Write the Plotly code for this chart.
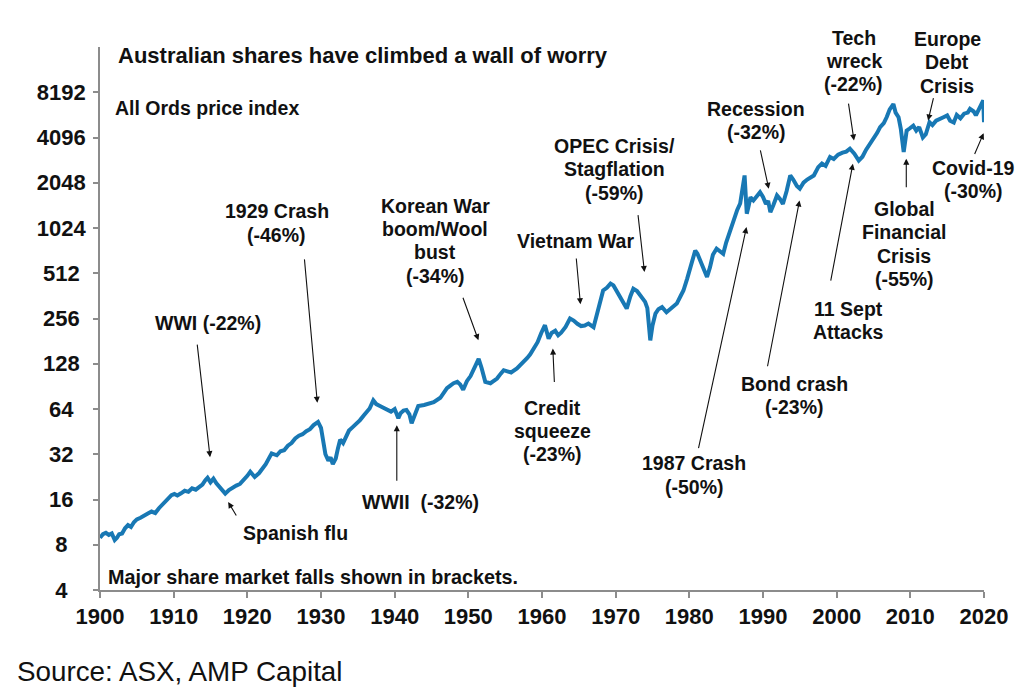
import math
import plotly.graph_objects as go

# ---------------- data ----------------
years = [
    1900.0, 1900.4, 1900.8, 1901.2, 1901.6, 1902.0, 1902.3, 1902.6, 1903.0, 1903.4,
    1903.8, 1904.2, 1904.6, 1905.0, 1905.5, 1906.0, 1906.5, 1907.0, 1907.5, 1908.0,
    1908.5, 1909.0, 1909.4, 1909.7, 1910.1, 1910.5, 1911.0, 1911.5, 1912.0, 1912.5,
    1913.0, 1913.5, 1913.9, 1914.3, 1914.6, 1915.0, 1915.4, 1915.8, 1916.3, 1916.7,
    1917.0, 1917.5, 1918.0, 1918.5, 1919.0, 1919.5, 1920.0, 1920.4, 1921.0, 1921.6,
    1922.0, 1922.5, 1923.0, 1923.3, 1924.0, 1924.5, 1925.0, 1925.5, 1926.0, 1926.5,
    1927.0, 1927.5, 1928.0, 1928.5, 1929.0, 1929.6, 1930.0, 1930.3, 1930.6, 1931.0,
    1931.3, 1931.6, 1932.0, 1932.3, 1932.6, 1933.0, 1933.4, 1933.8, 1934.3, 1934.8,
    1935.3, 1935.8, 1936.2, 1936.6, 1937.1, 1937.5, 1938.0, 1938.5, 1939.0, 1939.5,
    1940.0, 1940.3, 1940.5, 1940.8, 1941.2, 1941.6, 1942.0, 1942.3, 1942.8, 1943.2,
    1944.0, 1944.7, 1945.3, 1946.2, 1946.7, 1947.1, 1947.6, 1948.0, 1948.5, 1948.9,
    1949.3, 1949.8, 1950.3, 1950.8, 1951.1, 1951.4, 1951.8, 1952.3, 1953.0, 1953.5,
    1953.9, 1954.4, 1954.8, 1955.3, 1955.8, 1956.6, 1957.0, 1957.5, 1958.0, 1958.4,
    1958.9, 1959.4, 1959.9, 1960.4, 1960.9, 1961.3, 1961.8, 1962.2, 1962.6, 1963.2,
    1963.8, 1964.3, 1964.8, 1965.3, 1965.8, 1966.3, 1967.0, 1967.4, 1967.9, 1968.3,
    1968.8, 1969.3, 1969.7, 1970.1, 1970.6, 1971.0, 1971.5, 1972.0, 1972.4, 1972.9,
    1973.3, 1973.6, 1974.0, 1974.3, 1974.5, 1974.7, 1975.0, 1975.4, 1975.8, 1976.3,
    1976.9, 1977.5, 1978.0, 1978.3, 1978.8, 1979.2, 1979.7, 1980.2, 1980.8, 1981.1,
    1981.5, 1982.0, 1982.4, 1982.8, 1983.2, 1983.7, 1984.2, 1984.6, 1985.0, 1985.5,
    1986.0, 1986.5, 1986.9, 1987.2, 1987.5, 1987.65, 1987.8, 1988.0, 1988.3, 1988.7,
    1989.1, 1989.6, 1990.0, 1990.4, 1990.7, 1991.0, 1991.4, 1991.9, 1992.3, 1992.7,
    1993.2, 1993.7, 1994.1, 1994.6, 1995.0, 1995.5, 1996.0, 1996.5, 1996.9, 1997.5,
    1998.0, 1998.5, 1999.1, 1999.6, 2000.2, 2000.8, 2001.3, 2001.8, 2002.4, 2003.0,
    2003.5, 2004.0, 2004.5, 2005.0, 2005.5, 2005.9, 2006.4, 2006.8, 2007.2, 2007.7,
    2008.0, 2008.4, 2008.7, 2009.1, 2009.5, 2009.9, 2010.4, 2010.8, 2011.2, 2011.7,
    2012.1, 2012.6, 2013.0, 2013.5, 2014.0, 2014.5, 2015.0, 2015.4, 2015.9, 2016.3,
    2016.8, 2017.3, 2017.8, 2018.1, 2018.6, 2018.9, 2019.3, 2019.6, 2019.9, 2020.0,
]
all_ords = [
    8.9, 9.4, 9.6, 9.3, 9.5, 8.6, 8.9, 9.4, 9.5, 10.3,
    10.8, 10.5, 11.3, 11.8, 12.1, 12.6, 12.9, 13.3, 13.0, 14.0,
    14.8, 15.8, 16.5, 17.1, 17.4, 17.0, 17.6, 18.3, 18.0, 19.0,
    18.6, 19.5, 20.1, 21.5, 22.3, 20.8, 22.0, 20.5, 19.0, 18.2,
    17.5, 18.5, 19.2, 19.8, 20.3, 21.5, 23.0, 24.5, 22.6, 24.0,
    25.5, 27.5, 30.5, 32.4, 31.5, 33.5, 34.0, 36.5, 38.0, 40.8,
    42.5, 43.5, 45.5, 47.0, 50.0, 52.5, 48.0, 40.0, 32.0, 29.0,
    30.5, 27.5, 30.0, 35.0, 40.0, 38.0, 42.0, 46.0, 48.5, 51.0,
    54.0, 58.0, 61.0, 64.5, 73.0, 69.0, 67.0, 65.0, 63.0, 61.5,
    64.0, 58.0, 55.5, 60.0, 62.5, 63.0, 59.0, 51.5, 60.0, 67.0,
    68.0, 69.5, 71.0, 76.0, 82.0, 88.0, 92.0, 95.0, 97.0, 93.0,
    86.0, 98.0, 106.0, 118.0, 128.0, 138.0, 120.0, 97.0, 95.0, 99.0,
    102.0, 110.0, 116.0, 114.0, 112.0, 119.0, 124.0, 131.0, 140.0, 148.0,
    162.0, 178.0, 205.0, 231.0, 188.0, 205.0, 212.0, 198.0, 206.0, 225.0,
    256.0, 248.0, 236.0, 228.0, 230.0, 237.0, 224.0, 262.0, 330.0, 393.0,
    410.0, 437.0, 425.0, 395.0, 355.0, 330.0, 298.0, 360.0, 404.0, 390.0,
    370.0, 355.0, 330.0, 300.0, 240.0, 183.0, 230.0, 276.0, 295.0, 305.0,
    282.0, 300.0, 310.0, 322.0, 360.0, 393.0, 470.0, 580.0, 725.0, 690.0,
    622.0, 540.0, 484.0, 560.0, 680.0, 745.0, 720.0, 690.0, 820.0, 980.0,
    1177.0, 1350.0, 1490.0, 1850.0, 2290.0, 1700.0, 1275.0, 1400.0, 1640.0, 1560.0,
    1650.0, 1770.0, 1650.0, 1480.0, 1550.0, 1305.0, 1450.0, 1686.0, 1600.0, 1480.0,
    1800.0, 2290.0, 2150.0, 1950.0, 1870.0, 2050.0, 2150.0, 2250.0, 2290.0, 2600.0,
    2750.0, 2650.0, 3040.0, 2950.0, 3150.0, 3250.0, 3300.0, 3450.0, 3200.0, 2880.0,
    3050.0, 3400.0, 3700.0, 3950.0, 4400.0, 4800.0, 5100.0, 5600.0, 6300.0, 6840.0,
    6000.0, 5590.0, 4700.0, 3280.0, 4550.0, 4700.0, 4910.0, 4550.0, 4800.0, 4100.0,
    4300.0, 5180.0, 4950.0, 5300.0, 5400.0, 5590.0, 5750.0, 5300.0, 5150.0, 5790.0,
    5500.0, 5900.0, 6000.0, 6350.0, 6100.0, 5750.0, 6300.0, 6700.0, 7230.0, 5180.0,
]

y_tick_values = [4, 8, 16, 32, 64, 128, 256, 512, 1024, 2048, 4096, 8192]
x_tick_values = [1900, 1910, 1920, 1930, 1940, 1950, 1960, 1970, 1980, 1990, 2000, 2010, 2020]

# event labels: (lines, text centre year, text centre value)
event_labels = [
    (["WWI (-22%)"], 1914.67, 239),
    (["1929 Crash", "(-46%)"], 1923.98, 1104),
    (["Korean War", "boom/Wool", "bust", "(-34%)"], 1945.53, 843),
    (["Spanish flu"], 1926.55, 9.61),
    (["WWII\u00a0 (-32%)"], 1943.55, 15.44),
    (["Credit", "squeeze", "(-23%)"], 1961.46, 45.8),
    (["Vietnam War"], 1964.50, 838),
    (["OPEC Crisis/", "Stagflation", "(-59%)"], 1969.87, 2518),
    (["1987 Crash", "(-50%)"], 1980.66, 23.25),
    (["Recession", "(-32%)"], 1989.05, 5288),
    (["Bond crash", "(-23%)"], 1994.28, 79.0),
    (["Tech", "wreck", "(-22%)"], 2002.35, 13188),
    (["11 Sept", "Attacks"], 2001.57, 249),
    (["Europe", "Debt", "Crisis"], 2015.02, 12964),
    (["Global", "Financial", "Crisis", "(-55%)"], 2009.18, 801),
    (["Covid-19", "(-30%)"], 2018.51, 2164),
]
# arrows: (head year, head value, tail dx px, tail dy px)
event_arrows = [
    (1914.94, 30.6, -13, -114),
    (1929.50, 70.3, -13, -145),
    (1951.37, 183.4, -16, -44),
    (1917.40, 15.4, 9, 15),
    (1940.29, 49.9, 0, 57),
    (1961.47, 161.6, 1.6, 35),
    (1965.22, 318, -4.3, -47.3),
    (1973.91, 521.6, -6.6, -58.4),
    (1987.76, 1038, -48.3, 222.6),
    (1990.78, 1868, -8.7, -40),
    (1994.96, 1562, -32.3, 167.3),
    (2002.35, 3912, -5.7, -38.3),
    (2002.20, 2739, -22.4, 118.4),
    (2012.41, 5312, 5.7, -24),
    (2009.45, 2956, 0, 30),
    (2019.95, 4376, -9.6, 22.3),
]

# ---------------- figure ----------------
FONT = "Liberation Sans, Arial, sans-serif"
LINE_PX = 23.3
AXIS_GREY = "#8c8c8c"

def pad_label(v):
    s = str(v)
    return s + "\u00a0" * (4 - len(s))

fig = go.Figure()
fig.add_trace(go.Scatter(
    x=years, y=all_ords, mode="lines",
    line=dict(color="#1878b4", width=4),
    hoverinfo="x+y", showlegend=False,
))

annotations = []
for lines, xc, yc in event_labels:
    n = len(lines)
    for i, line in enumerate(lines):
        annotations.append(dict(
            x=xc, y=math.log10(yc), xref="x", yref="y", text="<b>%s</b>" % line,
            showarrow=False, xanchor="center", yanchor="middle",
            yshift=((n - 1) / 2 - i) * LINE_PX,
            font=dict(family=FONT, size=19.5, color="#111111"),
        ))
for hx, hy, dx, dy in event_arrows:
    annotations.append(dict(
        x=hx, y=math.log10(hy), xref="x", yref="y", text="",
        showarrow=True, ax=dx, ay=dy, arrowhead=2, arrowsize=1.1,
        arrowwidth=1.1, arrowcolor="#111111", standoff=0,
    ))

annotations += [
    dict(x=0.0181, y=0.9847, xref="paper", yref="paper", xanchor="left", yanchor="middle",
         text="<b>Australian shares have climbed a wall of worry</b>", showarrow=False,
         font=dict(family=FONT, size=22, color="#111111")),
    dict(x=0.0147, y=0.8872, xref="paper", yref="paper", xanchor="left", yanchor="middle",
         text="<b>All Ords price index</b>", showarrow=False,
         font=dict(family=FONT, size=19.5, color="#111111")),
    dict(x=0.0068, y=0.0245, xref="paper", yref="paper", xanchor="left", yanchor="middle",
         text="<b>Major share market falls shown in brackets.</b>", showarrow=False,
         font=dict(family=FONT, size=19.8, color="#111111")),
    dict(x=-0.0962, y=-0.1509, xref="paper", yref="paper", xanchor="left", yanchor="middle",
         text="Source: ASX, AMP Capital", showarrow=False,
         font=dict(family=FONT, size=27.8, color="#111111")),
]

# page body adds an 8px margin, so the figure is 8px smaller and shifted
fig.update_layout(
    width=1016, height=690,
    margin=dict(l=92, r=40.3, t=38.7, b=108),
    paper_bgcolor="white", plot_bgcolor="white",
    annotations=annotations,
    font=dict(family=FONT, color="#111111"),
)
fig.update_xaxes(
    range=[1900, 2020], tickvals=x_tick_values,
    ticktext=["<b>%d</b>" % v for v in x_tick_values],
    tickfont=dict(family=FONT, size=22, color="#111111"),
    showline=True, linecolor=AXIS_GREY, linewidth=1.6,
    ticks="outside", ticklen=6, tickwidth=1.6, tickcolor=AXIS_GREY,
    showgrid=False, zeroline=False,
)
fig.update_yaxes(
    type="log", range=[math.log10(4), math.log10(16384)],
    tickvals=y_tick_values,
    ticktext=["<b>%s</b>" % pad_label(v) for v in y_tick_values],
    tickfont=dict(family=FONT, size=22, color="#111111"),
    showline=True, linecolor=AXIS_GREY, linewidth=1.6,
    ticks="outside", ticklen=5, tickwidth=1.6, tickcolor=AXIS_GREY,
    ticklabelstandoff=3,
    showgrid=False, zeroline=False,
)

fig.write_html("out.html")
